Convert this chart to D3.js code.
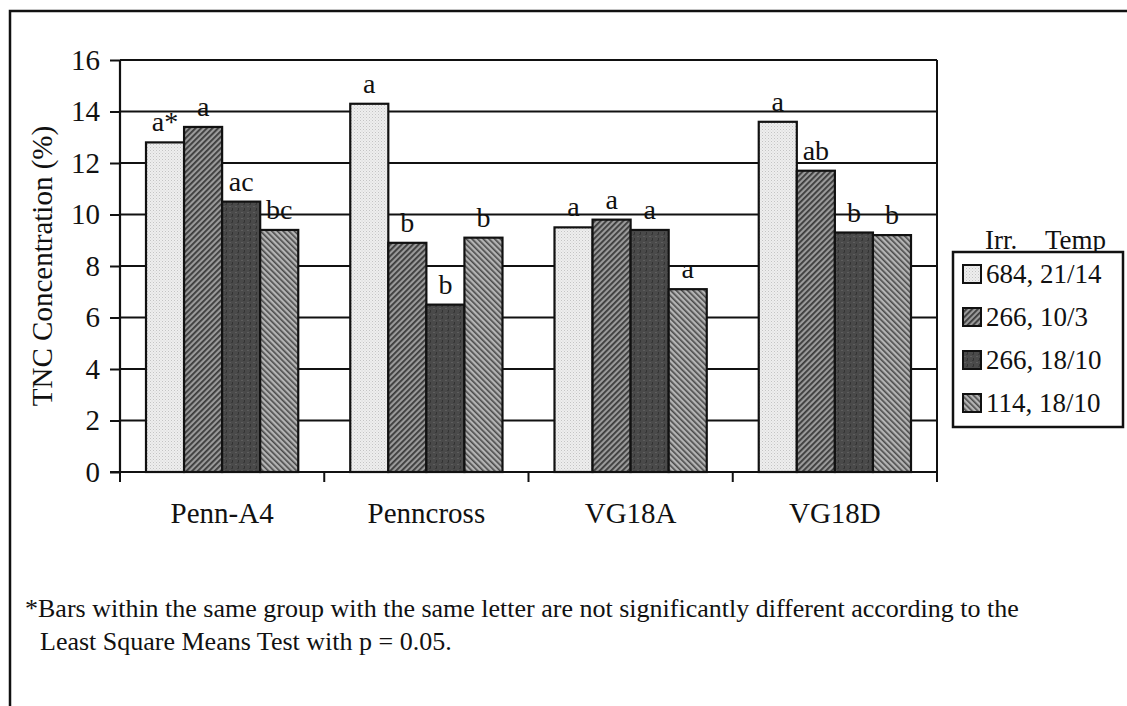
<!DOCTYPE html>
<html>
<head>
<meta charset="utf-8">
<script src="https://cdn.jsdelivr.net/npm/d3@7"></script>
<style>
  body { margin: 0; background: #fff; }
  svg { display: block; font-family: "Liberation Serif", "Times New Roman", serif; }
</style>
</head>
<body>
<svg id="chart" width="1127" height="706"></svg>
<script>
// cultivars on the x axis
var cultivars = ["Penn-A4", "Penncross", "VG18A", "VG18D"];
// treatments: irrigation, temperature
var treatments = ["684, 21/14", "266, 10/3", "266, 18/10", "114, 18/10"];

// TNC concentration (%) per treatment, in cultivar order
var tnc684_21 = [12.8, 14.3, 9.5, 13.6];
var tnc266_10 = [13.4, 8.9, 9.8, 11.7];
var tnc266_18 = [10.5, 6.5, 9.4, 9.3];
var tnc114_18 = [9.4, 9.1, 7.1, 9.2];

// mean separation letters, same order
var let684_21 = ["a*", "a", "a", "a"];
var let266_10 = ["a", "b", "a", "ab"];
var let266_18 = ["ac", "b", "a", "b"];
var let114_18 = ["bc", "b", "a", "b"];

var yTicks = [0, 2, 4, 6, 8, 10, 12, 14, 16];

var series = [tnc684_21, tnc266_10, tnc266_18, tnc114_18];
var letters = [let684_21, let266_10, let266_18, let114_18];
var fills = ["url(#pStipple)", "url(#pUp)", "url(#pDark)", "url(#pDown)"];

var svg = d3.select("#chart");

// outer frame, runs off the right and bottom
svg.append("rect")
  .attr("x", 10).attr("y", 11)
  .attr("width", 1160).attr("height", 740)
  .attr("fill", "none").attr("stroke", "#111").attr("stroke-width", 2.5);

// fill patterns
var defs = svg.append("defs");

var p1 = defs.append("pattern").attr("id", "pStipple")
  .attr("patternUnits", "userSpaceOnUse").attr("width", 3).attr("height", 3);
p1.append("rect").attr("width", 3).attr("height", 3).attr("fill", "#eeeeee");
p1.append("rect").attr("x", 0).attr("y", 0).attr("width", 1).attr("height", 1).attr("fill", "#c4c4c4");
p1.append("rect").attr("x", 1.5).attr("y", 1.5).attr("width", 1).attr("height", 1).attr("fill", "#d2d2d2");

var p2 = defs.append("pattern").attr("id", "pUp")
  .attr("patternUnits", "userSpaceOnUse").attr("width", 4).attr("height", 4)
  .attr("patternTransform", "rotate(45)");
p2.append("rect").attr("width", 4).attr("height", 4).attr("fill", "#9a9a9a");
p2.append("rect").attr("width", 1.8).attr("height", 4).attr("fill", "#3a3a3a");

var p3 = defs.append("pattern").attr("id", "pDark")
  .attr("patternUnits", "userSpaceOnUse").attr("width", 6).attr("height", 6);
p3.append("rect").attr("width", 6).attr("height", 6).attr("fill", "#4a4a4a");
p3.append("rect").attr("x", 1).attr("y", 2).attr("width", 2).attr("height", 1).attr("fill", "#5e5e5e");
p3.append("rect").attr("x", 4).attr("y", 4).attr("width", 1).attr("height", 2).attr("fill", "#333");
p3.append("rect").attr("x", 3).attr("y", 0).attr("width", 2).attr("height", 1).attr("fill", "#3a3a3a");

var p4 = defs.append("pattern").attr("id", "pDown")
  .attr("patternUnits", "userSpaceOnUse").attr("width", 4).attr("height", 4)
  .attr("patternTransform", "rotate(-45)");
p4.append("rect").attr("width", 4).attr("height", 4).attr("fill", "#b4b4b4");
p4.append("rect").attr("width", 1.6).attr("height", 4).attr("fill", "#4a4a4a");

// plot area
var plotL = 120, plotR = 937, plotT = 60, plotB = 472;

var x = d3.scaleBand().domain(cultivars).range([plotL, plotR]);
var xInner = d3.scaleBand().domain(d3.range(treatments.length))
  .range([26, x.bandwidth() - 26]);
var y = d3.scaleLinear().domain([0, 16]).range([plotB, plotT]);

// gridlines
svg.append("g")
  .selectAll("line")
  .data(yTicks.filter(function (d) { return d > 0; }))
  .join("line")
  .attr("x1", plotL).attr("x2", plotR)
  .attr("y1", function (d) { return y(d); })
  .attr("y2", function (d) { return y(d); })
  .attr("stroke", "#111").attr("stroke-width", 2);

// right border of plot
svg.append("line")
  .attr("x1", plotR).attr("x2", plotR).attr("y1", plotT).attr("y2", plotB)
  .attr("stroke", "#111").attr("stroke-width", 2);

// bars
var groups = svg.append("g").selectAll("g")
  .data(series)
  .join("g")
  .attr("fill", function (d, i) { return fills[i]; });

groups.each(function (vals, si) {
  d3.select(this).selectAll("rect")
    .data(vals)
    .join("rect")
    .attr("x", function (d, ci) { return x(cultivars[ci]) + xInner(si); })
    .attr("y", function (d) { return y(d); })
    .attr("width", xInner.bandwidth())
    .attr("height", function (d) { return y(0) - y(d); })
    .attr("stroke", "#111").attr("stroke-width", 2.2);
});

// letters above bars
groups.each(function (vals, si) {
  d3.select(this).selectAll("text")
    .data(vals)
    .join("text")
    .attr("x", function (d, ci) { return x(cultivars[ci]) + xInner(si) + xInner.bandwidth() / 2; })
    .attr("y", function (d) { return y(d) - 11; })
    .attr("text-anchor", "middle")
    .attr("fill", "#111")
    .attr("font-size", 28)
    .text(function (d, ci) { return letters[si][ci]; });
});

// y axis
var yAxis = svg.append("g")
  .attr("transform", "translate(" + plotL + ",0)")
  .call(d3.axisLeft(y).tickValues(yTicks).tickSize(10).tickPadding(10));
yAxis.select(".domain").attr("stroke", "#111").attr("stroke-width", 2.2)
  .attr("d", "M0," + plotT + "V" + plotB);
yAxis.selectAll(".tick line").attr("stroke", "#111").attr("stroke-width", 2);
yAxis.selectAll(".tick text").attr("font-size", 29).attr("fill", "#111")
  .attr("font-family", "Liberation Serif");

// x axis with ticks at the band edges
var xAxis = svg.append("g");
xAxis.append("line")
  .attr("x1", plotL - 10).attr("x2", plotR)
  .attr("y1", plotB).attr("y2", plotB)
  .attr("stroke", "#111").attr("stroke-width", 2.2);
xAxis.selectAll("line.edge")
  .data(cultivars.map(function (c) { return x(c); }).concat([plotR]))
  .join("line")
  .attr("class", "edge")
  .attr("x1", function (d) { return d; }).attr("x2", function (d) { return d; })
  .attr("y1", plotB).attr("y2", plotB + 10)
  .attr("stroke", "#111").attr("stroke-width", 2);
xAxis.selectAll("text")
  .data(cultivars)
  .join("text")
  .attr("x", function (d) { return x(d) + x.bandwidth() / 2; })
  .attr("y", plotB + 51)
  .attr("text-anchor", "middle")
  .attr("font-size", 29).attr("fill", "#111")
  .text(function (d) { return d; });

// y title
svg.append("text")
  .attr("transform", "translate(52," + (plotT + plotB) / 2 + ") rotate(-90)")
  .attr("text-anchor", "middle")
  .attr("font-size", 29).attr("fill", "#111")
  .text("TNC Concentration (%)");

// legend
var lg = svg.append("g");
lg.append("text").attr("x", 985).attr("y", 249)
  .attr("font-size", 27).attr("fill", "#111").text("Irr.");
lg.append("text").attr("x", 1106).attr("y", 249).attr("text-anchor", "end")
  .attr("font-size", 27).attr("fill", "#111").text("Temp");
lg.append("rect")
  .attr("x", 953).attr("y", 252).attr("width", 170).attr("height", 175)
  .attr("fill", "#fff").attr("stroke", "#111").attr("stroke-width", 2.5);

var ly = d3.scalePoint().domain(treatments).range([274, 403]);
var items = lg.selectAll("g.item")
  .data(treatments)
  .join("g")
  .attr("class", "item")
  .attr("transform", function (d) { return "translate(963," + ly(d) + ")"; });
items.append("rect")
  .attr("x", 0).attr("y", -9).attr("width", 18).attr("height", 18)
  .attr("fill", function (d, i) { return fills[i]; })
  .attr("stroke", "#111").attr("stroke-width", 2);
items.append("text")
  .attr("x", 23).attr("y", 9)
  .attr("font-size", 27).attr("fill", "#111")
  .text(function (d) { return d; });

// footnote
svg.append("text")
  .attr("x", 25).attr("y", 617)
  .attr("font-size", 26).attr("fill", "#111")
  .text("*Bars within the same group with the same letter are not significantly different according to the");
svg.append("text")
  .attr("x", 40).attr("y", 650)
  .attr("font-size", 26).attr("fill", "#111")
  .text("Least Square Means Test with p = 0.05.");
</script>
</body>
</html>
